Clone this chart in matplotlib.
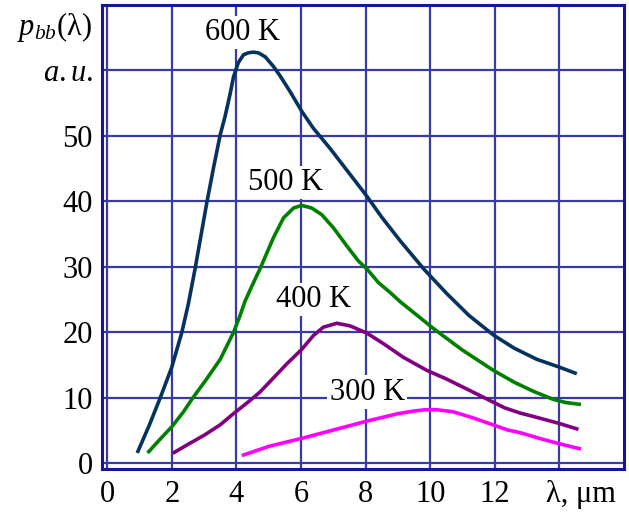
import matplotlib
matplotlib.use("Agg")
import matplotlib.pyplot as plt

plt.rcParams['font.family'] = ['Liberation Serif', 'DejaVu Serif']
plt.rcParams['mathtext.fontset'] = 'custom'
plt.rcParams['mathtext.rm'] = 'Liberation Serif'
plt.rcParams['mathtext.it'] = 'Liberation Serif:italic'

# ---- data ----
x600 = [0.93, 1.30, 1.64, 2.00, 2.31, 2.51, 2.72, 2.90, 3.08, 3.29, 3.50, 3.65, 3.80, 3.91, 4.06,
        4.22, 4.37, 4.52, 4.68, 4.89, 5.15, 5.35, 5.66, 6.02, 6.38, 6.90, 7.40, 8.04, 8.50,
        9.07, 9.80, 10.50, 11.20, 11.96, 12.60, 13.30, 14.00, 14.54]
y600 = [1.6, 5.8, 10.0, 14.7, 20.0, 24.3, 29.7, 34.7, 39.7, 45.1, 50.2, 53.0, 56.3, 59.0, 61.2,
        62.4, 62.7, 62.8, 62.7, 62.1, 60.6, 59.2, 56.8, 53.8, 51.2, 48.1, 44.9, 40.8, 37.6,
        34.0, 29.7, 26.0, 22.6, 19.6, 17.6, 15.9, 14.7, 13.7]

x500 = [1.25, 1.60, 2.00, 2.35, 2.65, 3.08, 3.50, 3.91, 4.10, 4.27, 4.50, 4.73, 5.15, 5.46,
        5.77, 6.02, 6.33, 6.64, 7.00, 7.42, 7.78, 8.04, 8.40, 8.76, 9.07, 9.60, 10.10, 11.00,
        11.96, 12.60, 13.20, 13.80, 14.20, 14.67]
y500 = [1.6, 3.5, 5.6, 7.8, 10.0, 12.9, 15.9, 20.0, 22.4, 24.8, 27.3, 29.7, 34.5, 37.5,
        39.0, 39.4, 39.0, 38.0, 36.0, 33.2, 30.9, 29.7, 27.6, 26.1, 24.7, 22.6, 20.6, 17.3,
        14.2, 12.4, 11.0, 9.8, 9.3, 9.0]

x400 = [2.03, 2.50, 3.00, 3.50, 3.91, 4.42, 4.73, 5.04, 5.56, 6.02, 6.38, 6.69, 7.11, 7.52,
        8.04, 8.55, 9.17, 9.90, 10.50, 11.20, 11.85, 12.30, 12.78, 13.40, 14.00, 14.59]
y400 = [1.55, 2.9, 4.3, 5.9, 7.6, 9.6, 10.9, 12.5, 15.2, 17.4, 19.5, 20.8, 21.4, 21.0,
        19.9, 18.3, 16.2, 14.2, 12.9, 11.2, 9.6, 8.5, 7.7, 6.9, 6.1, 5.2]

x300 = [4.17, 5.00, 6.08, 7.00, 8.07, 9.00, 9.50, 9.85, 10.20, 10.70, 11.30, 12.00, 12.40,
        12.78, 13.40, 14.00, 14.67]
y300 = [1.2, 2.6, 3.9, 5.1, 6.5, 7.6, 8.0, 8.2, 8.2, 7.9, 7.0, 5.8, 5.1,
        4.7, 3.8, 3.0, 2.2]

xticks = [0, 2, 4, 6, 8, 10, 12, 14]
xtick_labels = ['0', '2', '4', '6', '8', '10', '12', '']
yticks = [0, 10, 20, 30, 40, 50, 60]
ytick_labels = ['0', '10', '20', '30', '40', '50', '$a.u.$']
x_unit_label = 'λ, μm'
y_name = r'$p_{bb}$(λ)'

series = [
    (x600, y600, '#06325f', '600 K', (4.18, 65.8)),
    (x500, y500, '#008000', '500 K', (5.52, 42.9)),
    (x400, y400, '#800080', '400 K', (6.40, 25.0)),
    (x300, y300, '#ff00ff', '300 K', (8.05, 10.9)),
]

fig = plt.figure(figsize=(6.29, 5.15), dpi=100)
ax = fig.add_axes([0.1617, 0.0887, 0.992 - 0.1617, 0.9903 - 0.0887])
ax.set_xlim(-0.17, 16.0)
ax.set_ylim(-0.9, 70)

grid_color = '#3a3aa2'
ax.set_xticks(xticks)
ax.set_xticklabels(xtick_labels)
ax.set_yticks(yticks)
ax.set_yticklabels(ytick_labels)
ax.set_xticks([14.67], minor=True)
ax.set_xticklabels([x_unit_label], minor=True)
ax.grid(True, which='major', color=grid_color, lw=1.6)
ax.set_axisbelow(True)
ax.tick_params(axis='both', which='both', length=0, labelsize=22)
ax.tick_params(axis='x', which='both', pad=8)
ax.tick_params(axis='y', pad=6.5)
for s in ax.spines.values():
    s.set_color('#16169a')
    s.set_linewidth(2.2)

for xs, ys, c, lab, (lx, ly) in series:
    ax.plot(xs, ys, color=c, lw=2.6, solid_capstyle='butt', solid_joinstyle='round', zorder=3)
    ax.text(lx, ly, lab, fontsize=22, ha='center', va='center', zorder=4,
            bbox=dict(facecolor='white', edgecolor='none', pad=1.5))

fig.text(92 / 629, 1 - 27 / 515, y_name, fontsize=22, ha='right', va='center')

fig.savefig('out.png', dpi=100)
